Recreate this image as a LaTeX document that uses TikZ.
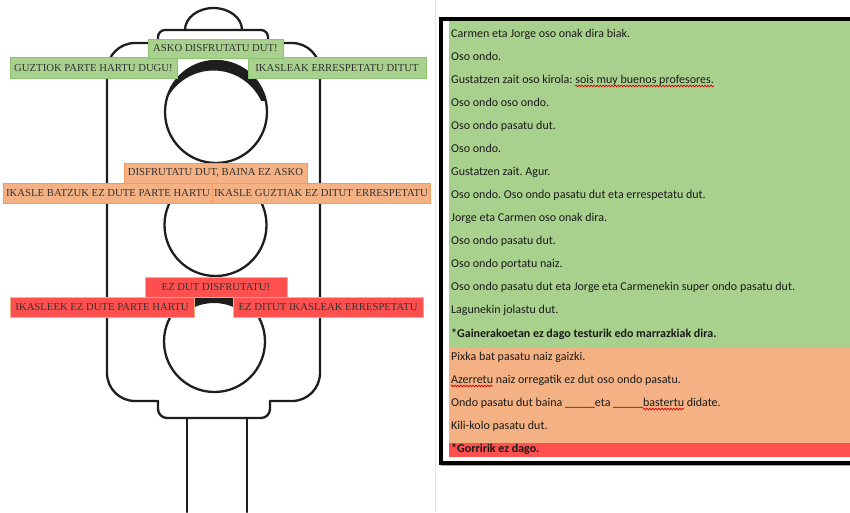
\documentclass[tikz,border=0pt]{standalone}
\usepackage{fontspec}
\usetikzlibrary{decorations.pathmorphing}
\newfontfamily\txtfont{Carlito}
\newfontfamily\lblfont{Liberation Serif}
\frenchspacing
\definecolor{tl}{HTML}{1E1E1E}
\definecolor{pgreen}{HTML}{A9D18E}
\definecolor{porange}{HTML}{F4B183}
\definecolor{pred}{HTML}{FF5050}
\definecolor{lgreenb}{HTML}{8CC474}
\definecolor{lorangeb}{HTML}{F09A5E}
\definecolor{lredb}{HTML}{F4B183}
\definecolor{lbltext}{HTML}{333333}
\definecolor{paneltext}{HTML}{1A1A1A}
\newcommand\panelfont{\txtfont\fontsize{12}{14}\selectfont}
\newlength\wA \newlength\wB \newlength\wC \newlength\wD \newlength\wE
\settowidth{\wA}{\panelfont Gustatzen zait oso kirola: }
\settowidth{\wB}{\panelfont sois muy buenos profesores.}
\settowidth{\wC}{\panelfont Azerretu}
\settowidth{\wD}{\panelfont Ondo pasatu dut baina \_\_\_\_\_eta \_\_\_\_\_}
\settowidth{\wE}{\panelfont bastertu}
\begin{document}
\begin{tikzpicture}[x=1pt,y=-1pt,
  light/.style={line width=2.3pt, draw=tl, line cap=round, line join=round},
  lbl/.style={line width=1pt, inner sep=0pt, minimum height=20pt,
    font=\lblfont\fontsize{10.7}{12}\selectfont, text=lbltext},
  glbl/.style={lbl, fill=pgreen, draw=lgreenb},
  olbl/.style={lbl, fill=porange, draw=lorangeb},
  rlbl/.style={lbl, fill=pred, draw=lredb},
  txt/.style={anchor=base west, inner sep=0pt, text=paneltext, font=\panelfont},
  btxt/.style={txt, font=\panelfont\bfseries},
  wavy/.style={draw=red!85!black, line width=0.7pt,
    decorate, decoration={snake, amplitude=0.9pt, segment length=3pt}}]
\useasboundingbox (0,0) rectangle (850,512);
\fill[white] (0,0) rectangle (850,512);

% ---------- traffic light ----------
% cap
\draw[light] (185,30) .. controls (185,17.85) and (197.76,8) .. (213.5,8)
                      .. controls (229.24,8) and (242,17.85) .. (242,30);
% top plate
\draw[light, rounded corners=7pt] (158,43) -- (158,30) -- (268,30) -- (268,43);
% body
\draw[light, rounded corners=28pt] (158,43) -- (107,43) -- (107,401) -- (158,401);
\draw[light, rounded corners=28pt] (268,43) -- (320,43) -- (320,401) -- (270,401);
% bottom plate
\draw[light, rounded corners=9pt] (158,401) -- (158,418) -- (270,418) -- (270,401);
% pole
\draw[light] (187,418) -- (187,512);
\draw[light] (247,418) -- (247,512);

% top light with visor
\begin{scope}
  \clip (216,112) circle (51pt);
  \clip (140,40) rectangle (300,100);
  \fill[tl, even odd rule] (120,20) rectangle (320,120) (213.5,123) circle (52.5pt);
\end{scope}
\draw[light] (216,112) circle (51pt);
% middle light
\draw[light] (215.5,225) circle (51pt);
% bottom light with visor
\begin{scope}
  \clip (214.5,341.5) circle (50.5pt);
  \clip (140,280) rectangle (300,316);
  \fill[tl, even odd rule] (120,260) rectangle (320,360) (214,352) circle (49pt);
\end{scope}
\draw[light] (214.5,341.5) circle (50.5pt);

% ---------- labels ----------
\node[glbl, minimum width=178pt, minimum height=21pt] (g3) at (337,68) {IKASLEAK ERRESPETATU DITUT};
\node[glbl, minimum width=167pt, minimum height=21pt] (g2) at (93.5,68) {GUZTIOK PARTE HARTU DUGU!};
\node[glbl, minimum width=135pt, minimum height=19pt] (g1) at (215.5,48.5) {ASKO DISFRUTATU DUT!};

\node[olbl, minimum width=183pt] (o1) at (215.5,173) {DISFRUTATU DUT, BAINA EZ ASKO};
\node[olbl, minimum width=210pt] (o2) at (108,193) {IKASLE BATZUK EZ DUTE PARTE HARTU};
\node[olbl, minimum width=218pt] (o3) at (321,193) {IKASLE GUZTIAK EZ DITUT ERRESPETATU};

\node[rlbl, minimum width=142pt] (r1) at (216,287) {EZ DUT DISFRUTATU!};
\node[rlbl, minimum width=184pt] (r2) at (102,307) {IKASLEEK EZ DUTE PARTE HARTU};
\node[rlbl, minimum width=190pt] (r3) at (328,307) {EZ DITUT IKASLEAK ERRESPETATU};

% ---------- right panel ----------
\draw[black!10, line width=0.8pt] (435,0) -- (435,512);
\fill[pgreen] (449,21) rectangle (850,348);
\fill[porange] (449,348) rectangle (850,443);
\fill[pred] (449,443) rectangle (850,457);
\draw[black!35, line width=1.5pt] (441,465.5) -- (852,465.5);
\draw[black, line width=4pt] (441,19) rectangle (853,462.5);

\node[txt] (t0) at (451,37) {Carmen eta Jorge oso onak dira biak.};
\node[txt] (t1) at (451,60.08) {Oso ondo.};
\node[txt] (t2) at (451,83.16) {Gustatzen zait oso kirola: sois muy buenos profesores.};
\node[txt] (t3) at (451,106.24) {Oso ondo oso ondo.};
\node[txt] (t4) at (451,129.32) {Oso ondo pasatu dut.};
\node[txt] (t5) at (451,152.4) {Oso ondo.};
\node[txt] (t6) at (451,175.48) {Gustatzen zait. Agur.};
\node[txt] (t7) at (451,198.56) {Oso ondo. Oso ondo pasatu dut eta errespetatu dut.};
\node[txt] (t8) at (451,221.64) {Jorge eta Carmen oso onak dira.};
\node[txt] (t9) at (451,244.72) {Oso ondo pasatu dut.};
\node[txt] (t10) at (451,267.8) {Oso ondo portatu naiz.};
\node[txt] (t11) at (451,290.88) {Oso ondo pasatu dut eta Jorge eta Carmenekin super ondo pasatu dut.};
\node[txt] (t12) at (451,313.96) {Lagunekin jolastu dut.};
\node[btxt] (t13) at (451,337.04) {*Gainerakoetan ez dago testurik edo marrazkiak dira.};
\node[txt] (t14) at (451,360.12) {Pixka bat pasatu naiz gaizki.};
\node[txt] (t15) at (451,383.2) {Azerretu naiz orregatik ez dut oso ondo pasatu.};
\node[txt] (t16) at (451,406.28) {Ondo pasatu dut baina \_\_\_\_\_eta \_\_\_\_\_bastertu didate.};
\node[txt] (t17) at (451,429.36) {Kili-kolo pasatu dut.};
\node[btxt] (t18) at (451,452.44) {*Gorririk ez dago.};

% wavy spelling underlines
\coordinate (w1a) at ([xshift=\wA, yshift=-2.8pt]t2.base west);
\coordinate (w1b) at ([xshift=\wA+\wB, yshift=-2.8pt]t2.base west);
\coordinate (w2a) at ([yshift=-2.8pt]t15.base west);
\coordinate (w2b) at ([xshift=\wC, yshift=-2.8pt]t15.base west);
\coordinate (w3a) at ([xshift=\wD, yshift=-2.8pt]t16.base west);
\coordinate (w3b) at ([xshift=\wD+\wE, yshift=-2.8pt]t16.base west);
\draw[wavy] (w1a) -- (w1b);
\draw[wavy] (w2a) -- (w2b);
\draw[wavy] (w3a) -- (w3b);
\end{tikzpicture}
\end{document}
